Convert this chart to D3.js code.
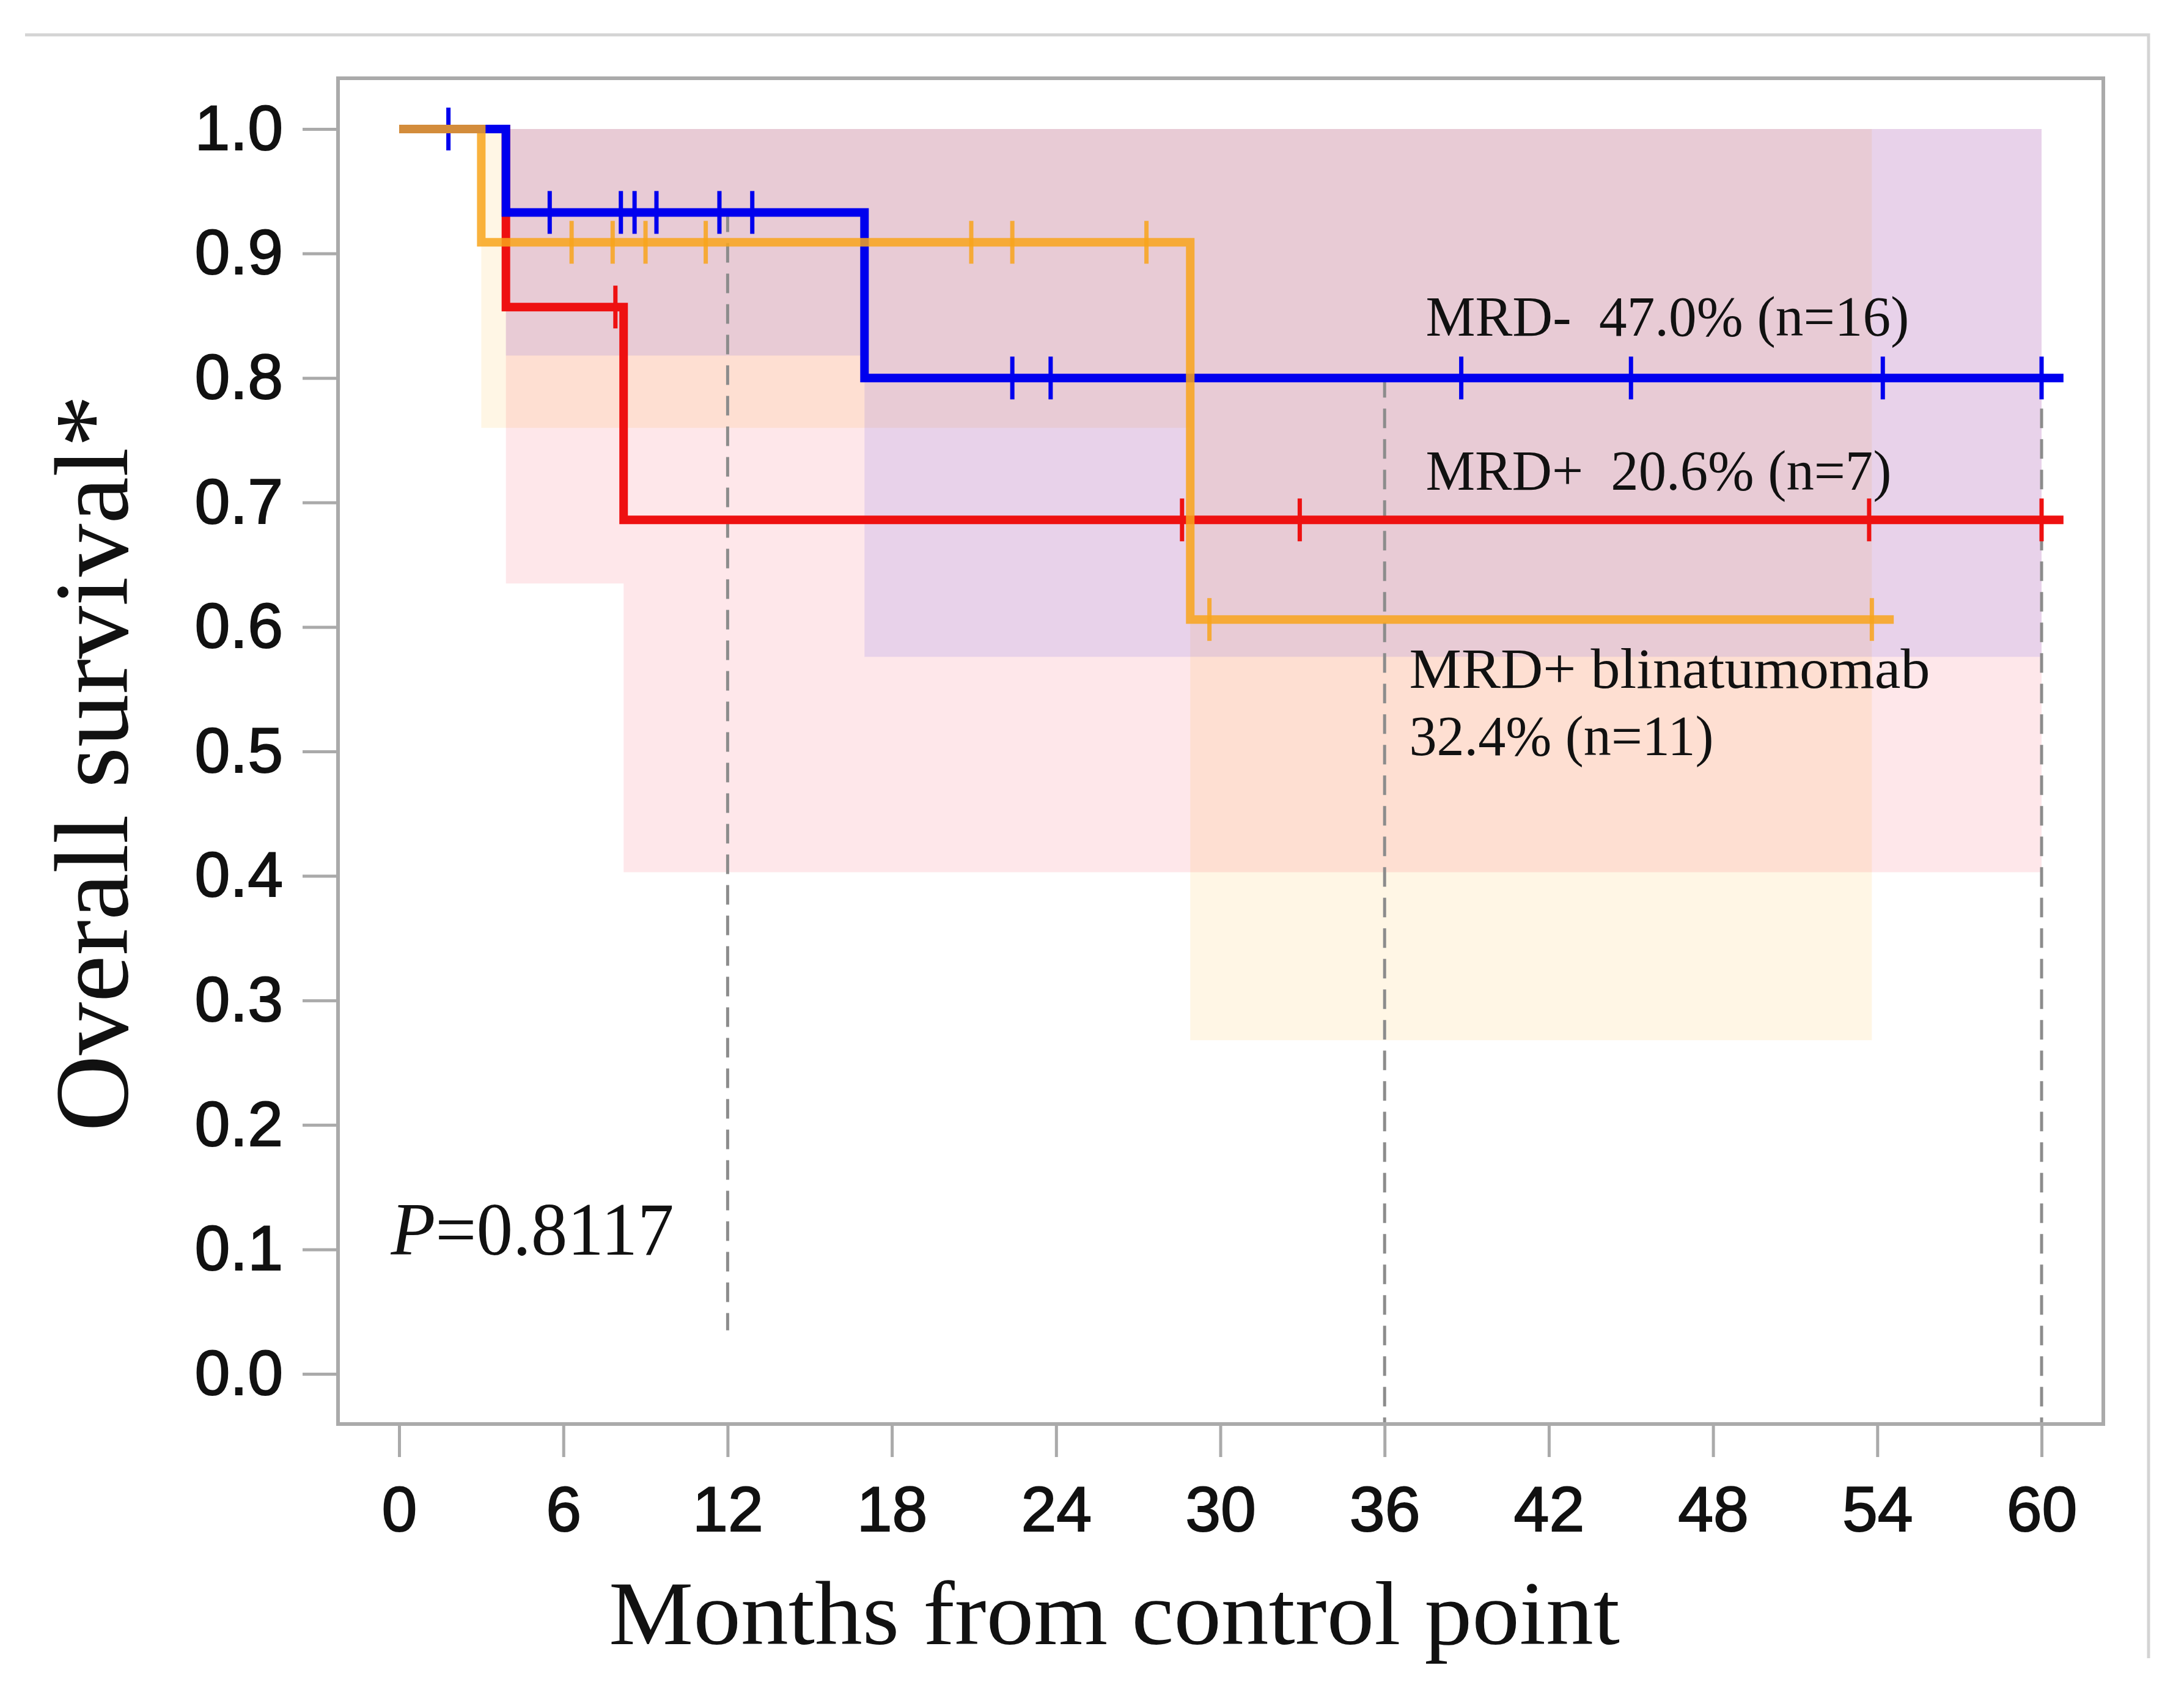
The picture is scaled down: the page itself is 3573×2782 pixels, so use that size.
<!DOCTYPE html>
<html>
<head>
<meta charset="utf-8">
<script src="https://cdn.jsdelivr.net/npm/d3@7.9.0/dist/d3.min.js"></script>
<style>
  body { margin: 0; background: #fff; }
  text { white-space: pre; }
</style>
</head>
<body>
<svg id="chart" width="3573" height="2782"></svg>
<script>
// Kaplan-Meier steps (months, overall survival)
const blueTimes = [0, 3.9, 17, 60.8];
const blueSurv = [1, 0.933, 0.80, 0.80];
const blueCensor = [1.8, 5.5, 8.1, 8.6, 9.4, 11.7, 12.9, 22.4, 23.8, 38.8, 45.0, 54.2, 60.0];

const redTimes = [0, 3.9, 8.2, 60.8];
const redSurv = [1, 0.857, 0.686, 0.686];
const redCensor = [7.9, 28.6, 32.9, 53.7, 60.0];

const orangeTimes = [0, 3.0, 28.9, 54.6];
const orangeSurv = [1, 0.909, 0.606, 0.606];
const orangeCensor = [6.3, 7.8, 9.0, 11.2, 20.9, 22.4, 27.3, 29.6, 53.8];

// confidence bands (step start, lower bound, upper bound)
const blueBandTimes = [3.9, 17, 60];
const blueBandLow = [0.818, 0.576, 0.576];
const redBandTimes = [3.9, 8.2, 60];
const redBandLow = [0.635, 0.403, 0.403];
const orangeBandTimes = [3.0, 28.9, 53.8];
const orangeBandLow = [0.760, 0.268, 0.268];
const bandHigh = [1, 1, 1];

// dashed landmark lines
const refTimes = [12, 36, 60];
const refEnd = [0.035, -0.04, -0.04];

const xTicks = d3.range(0, 61, 6);
const yTicks = d3.range(0, 11).map(d => d / 10);

const labelTexts = ['MRD-  47.0% (n=16)', 'MRD+  20.6% (n=7)', 'MRD+ blinatumomab', '32.4% (n=11)'];

// ---- drawing ----
const svg = d3.select('#chart');
const x = d3.scaleLinear().domain([0, 60]).range([653, 3340]);
const y = d3.scaleLinear().domain([0, 1]).range([2247, 211]);

const serif = '"Liberation Serif", "Times New Roman", serif';
const sans = '"Liberation Sans", Arial, sans-serif';

// outer frame (top + right)
svg.append('path')
    .attr('d', 'M41,57 H3515 V2712')
    .attr('fill', 'none')
    .attr('stroke', '#d4d4d4')
    .attr('stroke-width', 5);

// bands
function band(times, low, high, color) {
    const pts = times.map((t, i) => [t, low[i], high[i]]);
    const area = d3.area()
        .curve(d3.curveStepAfter)
        .x(d => x(d[0]))
        .y0(d => y(d[1]))
        .y1(d => y(d[2]));
    svg.append('path').attr('d', area(pts)).attr('fill', color);
}
band(orangeBandTimes, orangeBandLow, bandHigh, 'rgba(255,165,0,0.10)');
band(redBandTimes, redBandLow, bandHigh, 'rgba(248,40,60,0.11)');
band(blueBandTimes, blueBandLow, bandHigh, 'rgba(107,91,234,0.15)');

// step lookup
function survAt(times, surv, t) {
    return surv[d3.bisectRight(times, t) - 1];
}

// dashed reference lines start at the MRD- curve
refTimes.forEach((t, i) => {
    svg.append('line')
        .attr('x1', x(t)).attr('x2', x(t))
        .attr('y1', y(survAt(blueTimes, blueSurv, t)))
        .attr('y2', y(refEnd[i]))
        .attr('stroke', '#8c8c8c')
        .attr('stroke-width', 5)
        .attr('stroke-dasharray', '32,18');
});

// plot box
svg.append('rect')
    .attr('x', 553).attr('y', 128)
    .attr('width', 2888).attr('height', 2201)
    .attr('fill', 'none')
    .attr('stroke', '#aaaaaa')
    .attr('stroke-width', 6);

// axes
const xAxis = svg.append('g')
    .attr('transform', 'translate(0,2329)')
    .call(d3.axisBottom(x).tickValues(xTicks).tickSize(54).tickPadding(47));
const yAxis = svg.append('g')
    .attr('transform', 'translate(553,0)')
    .call(d3.axisLeft(y).tickValues(yTicks).tickSize(58).tickPadding(32).tickFormat(d3.format('.1f')));
[xAxis, yAxis].forEach(g => {
    g.select('.domain').remove();
    g.selectAll('.tick line').attr('stroke', '#aaaaaa').attr('stroke-width', 5);
    g.selectAll('.tick text')
        .attr('fill', '#111')
        .attr('stroke', '#111')
        .attr('stroke-width', 2)
        .style('font-family', sans)
        .style('font-size', '104px');
});

// survival curves
function curve(times, surv, censor, color, opacity) {
    const line = d3.line()
        .curve(d3.curveStepAfter)
        .x(d => x(d[0]))
        .y(d => y(d[1]));
    svg.append('path')
        .attr('d', line(times.map((t, i) => [t, surv[i]])))
        .attr('fill', 'none')
        .attr('stroke', color)
        .attr('stroke-opacity', opacity)
        .attr('stroke-width', 14);
    svg.append('g').selectAll('line')
        .data(censor)
        .join('line')
        .attr('x1', d => x(d)).attr('x2', d => x(d))
        .attr('y1', d => y(survAt(times, surv, d)) - 35)
        .attr('y2', d => y(survAt(times, surv, d)) + 35)
        .attr('stroke', color)
        .attr('stroke-opacity', opacity)
        .attr('stroke-width', 7);
}
curve(redTimes, redSurv, redCensor, '#ee1111', 1);
curve(blueTimes, blueSurv, blueCensor, '#0000ee', 1);
curve(orangeTimes, orangeSurv, orangeCensor, '#f8a51b', 0.85);

// group labels
const labelPos = [[37.5, 0.834, 791], [37.5, 0.710, 762], [36.9, 0.551, 852], [36.9, 0.497, 498]];
labelTexts.forEach((t, i) => {
    svg.append('text')
        .attr('x', x(labelPos[i][0]))
        .attr('y', y(labelPos[i][1]))
        .attr('textLength', labelPos[i][2])
        .attr('lengthAdjust', 'spacingAndGlyphs')
        .style('font-family', serif)
        .style('font-size', '94px')
        .attr('fill', '#111')
        .text(t);
});

// p value
const pText = svg.append('text')
    .attr('x', x(-0.3)).attr('y', y(0.096))
    .attr('textLength', 463)
    .attr('lengthAdjust', 'spacingAndGlyphs')
    .style('font-family', serif)
    .style('font-size', '122px')
    .attr('fill', '#111');
pText.append('tspan').style('font-style', 'italic').text('P');
pText.append('tspan').text('=0.8117');

// axis titles
svg.append('text')
    .attr('x', 1823).attr('y', 2689)
    .attr('text-anchor', 'middle')
    .attr('textLength', 1654)
    .attr('lengthAdjust', 'spacingAndGlyphs')
    .style('font-family', serif)
    .style('font-size', '148px')
    .attr('fill', '#111')
    .text('Months from control point');

svg.append('text')
    .attr('transform', 'translate(208,1248) rotate(-90)')
    .attr('text-anchor', 'middle')
    .attr('textLength', 1205)
    .attr('lengthAdjust', 'spacingAndGlyphs')
    .style('font-family', serif)
    .style('font-size', '172px')
    .attr('fill', '#111')
    .text('Overall survival*');
</script>
</body>
</html>
